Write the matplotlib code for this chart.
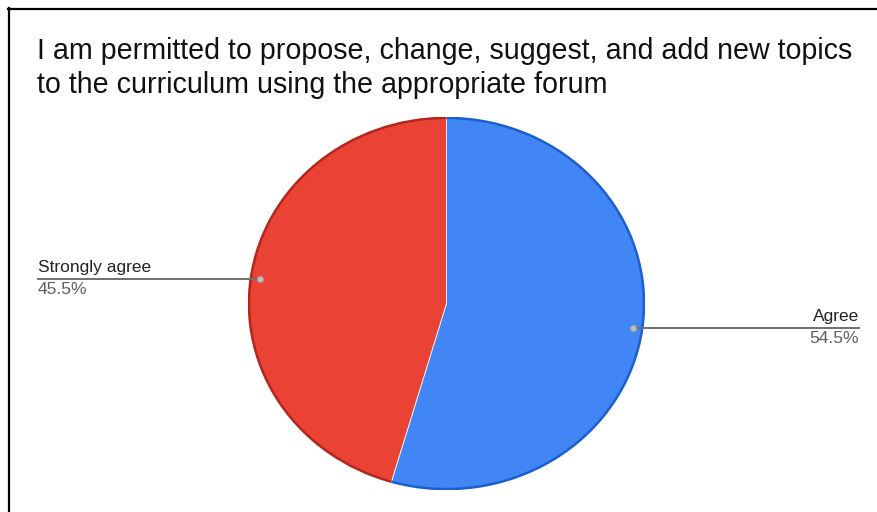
import numpy as np
import matplotlib.pyplot as plt
from matplotlib.lines import Line2D
from matplotlib.patches import Arc

plt.rcParams['font.family'] = ['Liberation Sans', 'DejaVu Sans']

title = "I am permitted to propose, change, suggest, and add new topics\nto the curriculum using the appropriate forum"
labels = ['Agree', 'Strongly agree']
values = [54.5, 45.5]
colors = ['#4285F4', '#EA4335']
edges = ['#1a5fd0', '#b3261e']

fig = plt.figure(figsize=(8.77, 5.12), dpi=100)
W, H = 877, 512

# frame around the chart (clipped at right/bottom like the screenshot)
fig.add_artist(Line2D([8 / W, 1], [1 - 9 / H, 1 - 9 / H], color='black', lw=1.6))
fig.add_artist(Line2D([9 / W, 9 / W], [0, 1 - 8 / H], color='black', lw=1.6))

fig.text(37 / W, 1 - 68 / H, title, fontsize=20.6, va='center', ha='left',
         color='#111111', linespacing=1.3)

ax = fig.add_axes([248 / W, (H - 490) / H, 397 / W, 373 / H])
wedges, _ = ax.pie(values, colors=colors, startangle=90, counterclock=False,
                   wedgeprops=dict(linewidth=0.6, edgecolor='#f4f4f4'))
for w, ec in zip(wedges, edges):
    ax.add_patch(Arc((0, 0), 2, 2, theta1=w.theta1, theta2=w.theta2,
                     color=ec, lw=1.8))
ax.set_aspect('auto')
ax.set_xlim(-1.005, 1.005)
ax.set_ylim(-1.005, 1.005)
ax.axis('off')

for w, lab, v in zip(wedges, labels, values):
    ang = np.deg2rad((w.theta1 + w.theta2) / 2)
    x, y = 0.955 * np.cos(ang), 0.955 * np.sin(ang)
    px = ax.transData.transform((x, y))
    if x > 0:
        xe, ha = 859 / W, 'right'
    else:
        xe, ha = 38 / W, 'left'
    fig.add_artist(Line2D([px[0] / W, xe], [px[1] / H, px[1] / H],
                          color='#6f6f6f', lw=1.4))
    fig.add_artist(Line2D([px[0] / W], [px[1] / H], marker='o', ms=4.5,
                          color='#bdbdbd', mec='#9e9e9e', mew=0.5))
    fig.text(xe, px[1] / H + 4 / H, lab, ha=ha, va='bottom', fontsize=12.5,
             color='#222222')
    fig.text(xe, px[1] / H - 3 / H, f'{v}%', ha=ha, va='top', fontsize=12.5,
             color='#5f5f5f')

fig.savefig('out.png', dpi=100)
